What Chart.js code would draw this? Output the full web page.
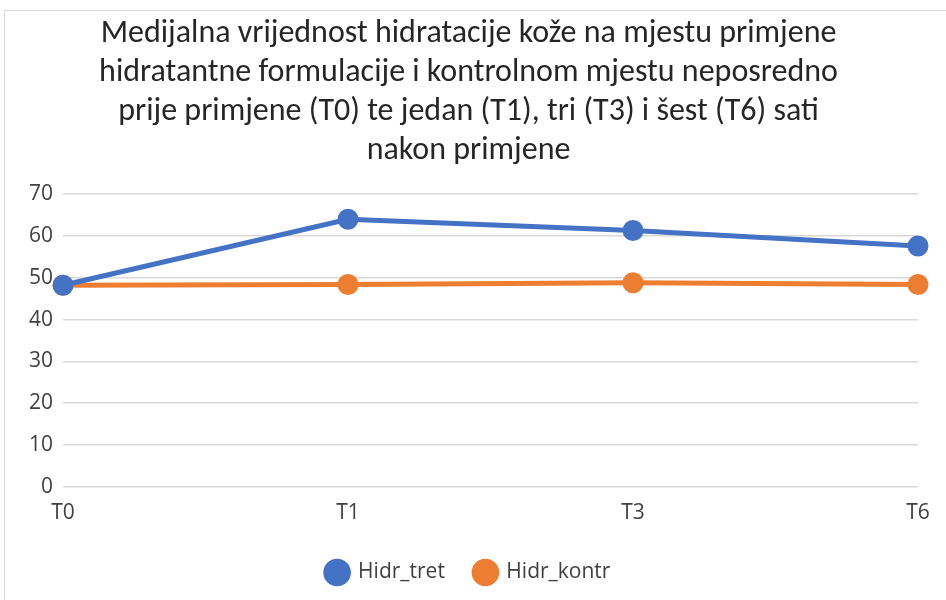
<!DOCTYPE html>
<html>
<head>
<meta charset="utf-8">
<script src="https://cdn.jsdelivr.net/npm/chart.js@4"></script>
<style>
  html, body { margin: 0; padding: 0; background: #fff; }
  #frame { position: absolute; left: 4px; top: 10px; width: 960px; height: 600px; border-top: 1px solid #d9d9d9; border-left: 1px solid #d9d9d9; }
  #wrap { position: absolute; left: 0; top: 0; width: 946px; height: 600px; }
</style>
</head>
<body>
<div id="frame"></div>
<div id="wrap"><canvas id="chart"></canvas></div>
<script>
const categories = ['T0', 'T1', 'T3', 'T6'];
const hidrTret = [48.2, 64.0, 61.3, 57.6];
const hidrKontr = [48.2, 48.4, 48.8, 48.4];
const seriesNames = ['Hidr_tret', 'Hidr_kontr'];
const titleLines = [
    'Medijalna vrijednost hidratacije kože na mjestu primjene',
    'hidratantne formulacije i kontrolnom mjestu neposredno',
    'prije primjene (T0) te jedan (T1), tri (T3) i šest (T6) sati',
    'nakon primjene'
];

const titleFont = "Carlito, Calibri, 'Liberation Sans Narrow', sans-serif";
const labelFont = "'Open Sans', 'Noto Sans', sans-serif";

const ctx = document.getElementById('chart').getContext('2d');
const chart = new Chart(ctx, {
    type: 'line',
    data: {
        labels: categories,
        datasets: [{
            label: seriesNames[0],
            data: hidrTret,
            borderColor: '#4472c4',
            backgroundColor: '#4472c4',
            borderWidth: 5,
            pointRadius: 8,
            pointHoverRadius: 8
        }, {
            label: seriesNames[1],
            data: hidrKontr,
            borderColor: '#ed7d31',
            backgroundColor: '#ed7d31',
            borderWidth: 5,
            pointRadius: 8,
            pointHoverRadius: 8
        }]
    },
    options: {
        responsive: true,
        maintainAspectRatio: false,
        animation: false,
        layout: { padding: { left: 19, right: 28, top: 14, bottom: 7 } },
        plugins: {
            title: {
                display: true,
                text: titleLines,
                color: '#262626',
                font: { family: titleFont, size: 32, weight: 'normal', lineHeight: 1.22 },
                padding: { top: 0, bottom: 24 }
            },
            legend: {
                position: 'bottom',
                labels: {
                    usePointStyle: true,
                    pointStyle: 'circle',
                    boxWidth: 22,
                    boxHeight: 16,
                    color: '#404040',
                    font: { family: labelFont, size: 21 },
                    padding: 30
                }
            },
            tooltip: { enabled: false }
        },
        scales: {
            x: {
                offset: false,
                grid: { display: false },
                border: { display: false },
                ticks: { color: '#404040', font: { family: labelFont, size: 21 }, padding: 6 }
            },
            y: {
                min: 0,
                max: 70,
                ticks: { stepSize: 10, color: '#404040', font: { family: labelFont, size: 21 }, padding: 10 },
                grid: { color: '#d9d9d9', lineWidth: 1.5, drawTicks: false },
                border: { display: false }
            }
        }
    }
});
</script>
</body>
</html>
